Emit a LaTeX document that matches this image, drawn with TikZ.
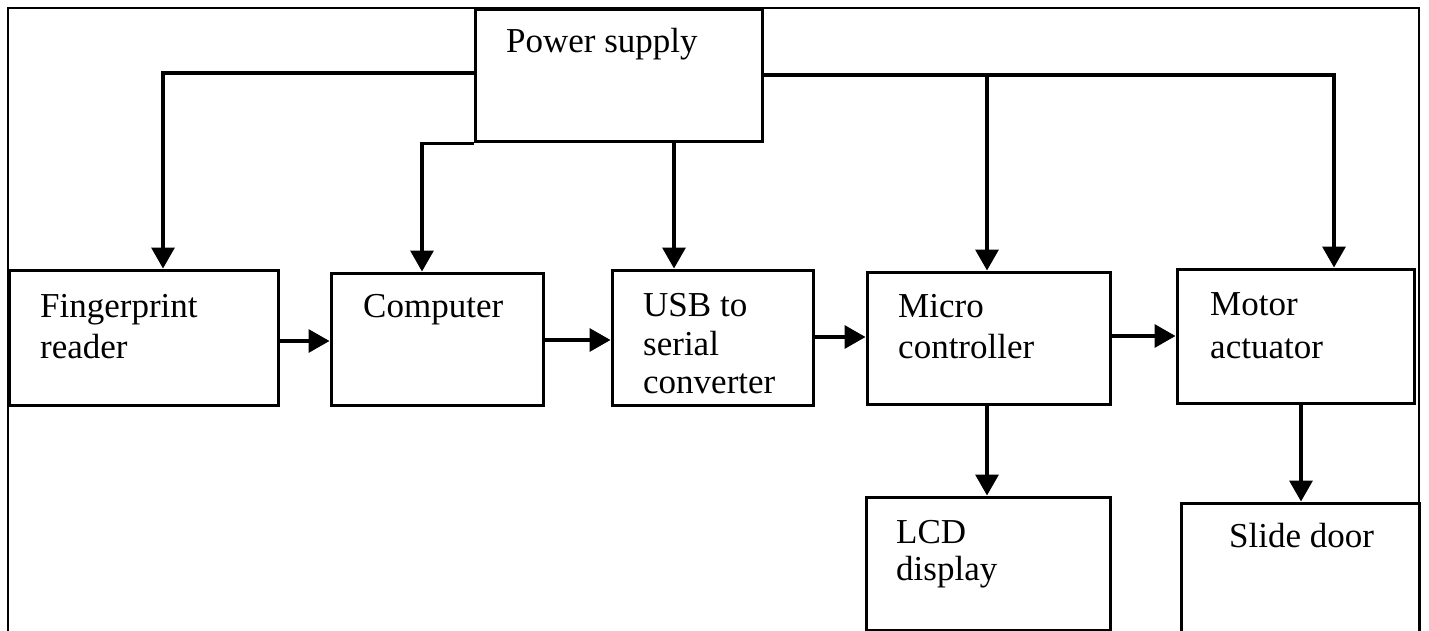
\documentclass[tikz,border=0pt]{standalone}
\usepackage{fontspec}
\setmainfont{Liberation Serif}
\usetikzlibrary{arrows.meta}
\begin{document}
\begin{tikzpicture}[x=1pt,y=-1pt,
  box/.style={draw, line width=3pt, rectangle, inner sep=0pt},
  txt/.style={anchor=base west, inner sep=0pt, font=\fontsize{35}{41}\selectfont},
  arr/.style={line width=3.4pt, -{Triangle[width=23pt,length=21pt]}},
  wire/.style={line width=3.4pt}]
\useasboundingbox (0,0) rectangle (1429,631);
\clip (0,0) rectangle (1429,631);
\fill[white] (0,0) rectangle (1429,631);
% frame
\draw[line width=2.2pt] (8,640) -- (8,8) -- (1419,8) -- (1419,640);
% boxes
\node[box, minimum width=287pt, minimum height=132pt] (power) at (618.5,76) {};
\node[box, minimum width=269pt, minimum height=135pt] (finger) at (143.5,337.5) {};
\node[box, minimum width=212pt, minimum height=132pt] (computer) at (437,339) {};
\node[box, minimum width=201pt, minimum height=135pt] (usb) at (712.5,337.5) {};
\node[box, minimum width=243pt, minimum height=132pt] (micro) at (988.5,338) {};
\node[box, minimum width=237pt, minimum height=134pt] (motor) at (1295.5,336) {};
\node[box, minimum width=244pt, minimum height=133pt] (lcd) at (988,563.5) {};
\node[box, minimum width=238pt, minimum height=140pt] (slide) at (1300,573) {};
% texts
\node[txt] (t1) at (506,53) {Power supply};
\node[txt] (t2) at (40,317) {Fingerprint};
\node[txt] (t3) at (40,358) {reader};
\node[txt] (t4) at (363,317) {Computer};
\node[txt] (t5) at (643,316) {USB to};
\node[txt] (t6) at (643,355) {serial};
\node[txt] (t7) at (643,393) {converter};
\node[txt] (t8) at (898,317) {Micro};
\node[txt] (t9) at (898,358) {controller};
\node[txt] (t10) at (1210,315) {Motor};
\node[txt] (t11) at (1210,358) {actuator};
\node[txt] (t12) at (896,543) {LCD};
\node[txt] (t13) at (896,580) {display};
\node[txt] (t14) at (1229,547) {Slide door};
% power connectors
\coordinate (j1) at (987,75);
\draw[arr] (power.west |- 0,73) -| (finger.north -| 163,0);
\draw[arr] (power.south west) -| (computer.north -| 422,0);
\draw[arr] (power.south -| 674,0) -- (usb.north -| 674,0);
\draw[arr] (power.east |- 0,75) -| (motor.north -| 1334,0);
\draw[arr] (j1) -- (micro.north -| j1);
% signal chain
\draw[arr] (finger.east |- 0,341) -- (computer.west |- 0,341);
\draw[arr] (computer.east |- 0,340) -- (usb.west |- 0,340);
\draw[arr] (usb.east |- 0,337) -- (micro.west |- 0,337);
\draw[arr] (micro.east |- 0,336) -- (motor.west |- 0,336);
\draw[arr] (micro.south -| j1) -- (lcd.north -| j1);
\draw[arr] (motor.south -| 1301,0) -- (slide.north -| 1301,0);
\end{tikzpicture}
\end{document}
